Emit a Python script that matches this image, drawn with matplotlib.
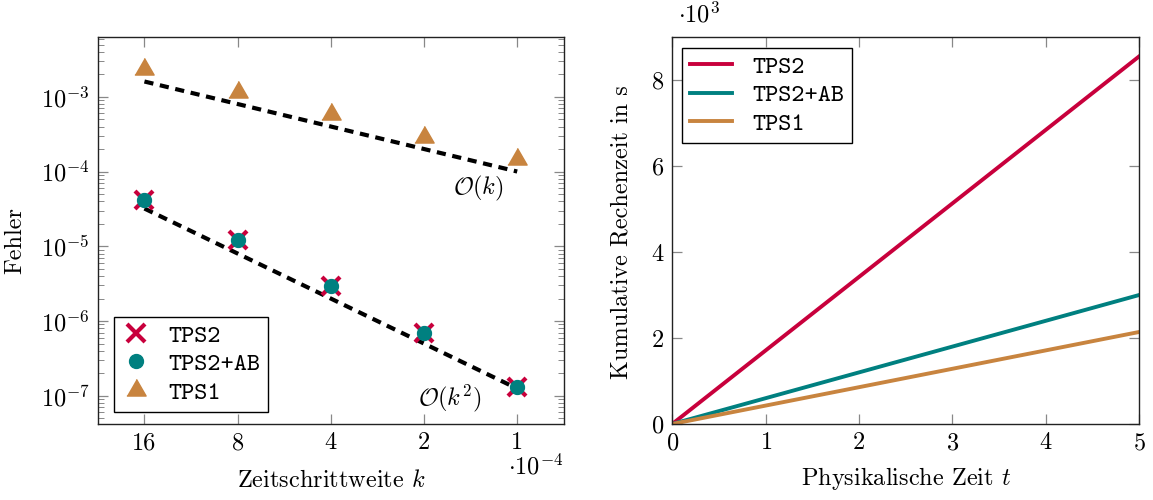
import numpy as np
import matplotlib
matplotlib.use("Agg")
import matplotlib.pyplot as plt
from matplotlib.ticker import FixedLocator, NullLocator, FuncFormatter, LogLocator
from matplotlib.font_manager import FontProperties

plt.rcParams['font.family'] = 'serif'
plt.rcParams['font.serif'] = ['cmr10']
plt.rcParams['mathtext.fontset'] = 'cm'
plt.rcParams['axes.formatter.use_mathtext'] = True
plt.rcParams['axes.unicode_minus'] = False

# --- data: error vs step size ---
k_vals = np.array([16, 8, 4, 2, 1]) * 1e-4
k_labels = ['16', '8', '4', '2', '1']
err_tps2 = [4.2e-5, 1.23e-5, 2.95e-6, 6.9e-7, 1.3e-7]
err_tps2ab = [4.2e-5, 1.23e-5, 2.95e-6, 6.9e-7, 1.3e-7]
err_tps1 = [2.35e-3, 1.17e-3, 5.85e-4, 2.9e-4, 1.45e-4]
ref_c1 = 1.0
ref_c2 = 12.5

# --- data: cumulative runtime ---
t_vals = [0, 1, 2, 3, 4, 5]
time_tps2 = [0, 1710, 3420, 5130, 6840, 8550]
time_tps2ab = [0, 600, 1200, 1800, 2400, 3000]
time_tps1 = [0, 428, 856, 1284, 1712, 2140]

RED = '#C8003C'
TEAL = '#008080'
ORANGE = '#C8843F'
FS = 17.5
tt = FontProperties(family='cmtt10', size=18)

fig = plt.figure(figsize=(11.53, 5.0), dpi=100)
ax1 = fig.add_axes([0.085, 0.152, 0.404, 0.774])
ax2 = fig.add_axes([0.583, 0.152, 0.405, 0.774])


def style_axes(ax):
    ax.tick_params(which='both', direction='in', top=True, right=True,
                   color='#888888', labelsize=FS, pad=6)
    ax.tick_params(which='major', length=7, width=0.9)
    ax.tick_params(which='minor', length=4.5, width=0.7)
    for s in ax.spines.values():
        s.set_color('#222222')
        s.set_linewidth(1.0)


# left plot
tri = [(-1, -0.577), (1, -0.577), (0, 1.155)]
ax1.plot(k_vals, ref_c1 * k_vals, ls=(0, (2.2, 1.6)), color='black', lw=3, zorder=2)
ax1.plot(k_vals, ref_c2 * k_vals ** 2, ls=(0, (2.2, 1.6)), color='black', lw=3, zorder=2)
ax1.plot(k_vals, err_tps2, ls='none', marker='x', ms=13.5, mew=3, color=RED,
         label='TPS2', zorder=3)
ax1.plot(k_vals, err_tps2ab, ls='none', marker='o', ms=10, color=TEAL,
         label='TPS2+AB', zorder=4)
ax1.plot(k_vals, err_tps1, ls='none', marker=tri, ms=16, color=ORANGE,
         label='TPS1', zorder=3)

ax1.set_xscale('log')
ax1.set_yscale('log')
ax1.set_xlim(22.6e-4, 0.707e-4)
ax1.set_ylim(4.2e-8, 6.3e-3)
ax1.xaxis.set_major_locator(FixedLocator(k_vals))
ax1.xaxis.set_minor_locator(NullLocator())
ax1.set_xticklabels(k_labels)
ax1.yaxis.set_major_locator(LogLocator(base=10, numticks=20))
ax1.yaxis.set_minor_locator(LogLocator(base=10, subs=np.arange(2, 10), numticks=20))
style_axes(ax1)
ax1.set_xlabel(r'Zeitschrittweite $k$', fontsize=FS, va='top')
ax1.xaxis.set_label_coords(0.5, -0.118)
ax1.set_ylabel('Fehler', fontsize=FS)
ax1.yaxis.set_label_coords(-0.153, 0.473)
ax1.text(1.0, -0.11, r'$\cdot10^{-4}$', transform=ax1.transAxes,
         ha='right', va='center', fontsize=FS)
ax1.text(1.34e-4, 5.9e-5, r'$\mathcal{O}(k)$', ha='center', va='center', fontsize=FS)
ax1.text(1.65e-4, 9.4e-8, r'$\mathcal{O}(k^2)$', ha='center', va='center', fontsize=FS)
leg1 = ax1.legend(loc='lower left', bbox_to_anchor=(0.034, 0.031), borderaxespad=0,
                  prop=tt, frameon=True, fancybox=False, edgecolor='black',
                  framealpha=1, handlelength=1.2, handletextpad=0.7,
                  borderpad=0.3, labelspacing=0.2)
leg1.get_frame().set_linewidth(1.0)

# right plot
ax2.plot(t_vals, time_tps2, color=RED, lw=2.8, label='TPS2')
ax2.plot(t_vals, time_tps2ab, color=TEAL, lw=2.8, label='TPS2+AB')
ax2.plot(t_vals, time_tps1, color=ORANGE, lw=2.8, label='TPS1')
ax2.set_xlim(0, 5)
ax2.set_ylim(0, 9000)
ax2.xaxis.set_major_locator(FixedLocator([0, 1, 2, 3, 4, 5]))
ax2.yaxis.set_major_locator(FixedLocator([0, 2000, 4000, 6000, 8000]))
ax2.yaxis.set_major_formatter(FuncFormatter(lambda v, p: f'{v / 1000:g}'))
style_axes(ax2)
ax2.set_xlabel(r'Physikalische Zeit $t$', fontsize=FS, va='top')
ax2.xaxis.set_label_coords(0.5, -0.105)
ax2.set_ylabel('Kumulative Rechenzeit in s', fontsize=FS)
ax2.yaxis.set_label_coords(-0.086, 0.496)
ax2.text(0.013, 1.057, r'$\cdot10^{3}$', transform=ax2.transAxes,
         ha='left', va='center', fontsize=FS)
leg2 = ax2.legend(loc='upper left', bbox_to_anchor=(0.021, 0.972), borderaxespad=0,
                  prop=tt, frameon=True, fancybox=False, edgecolor='black',
                  framealpha=1, handlelength=1.7, handletextpad=0.8,
                  borderpad=0.3, labelspacing=0.2)
leg2.get_frame().set_linewidth(1.0)

fig.savefig('out.png', dpi=100)
